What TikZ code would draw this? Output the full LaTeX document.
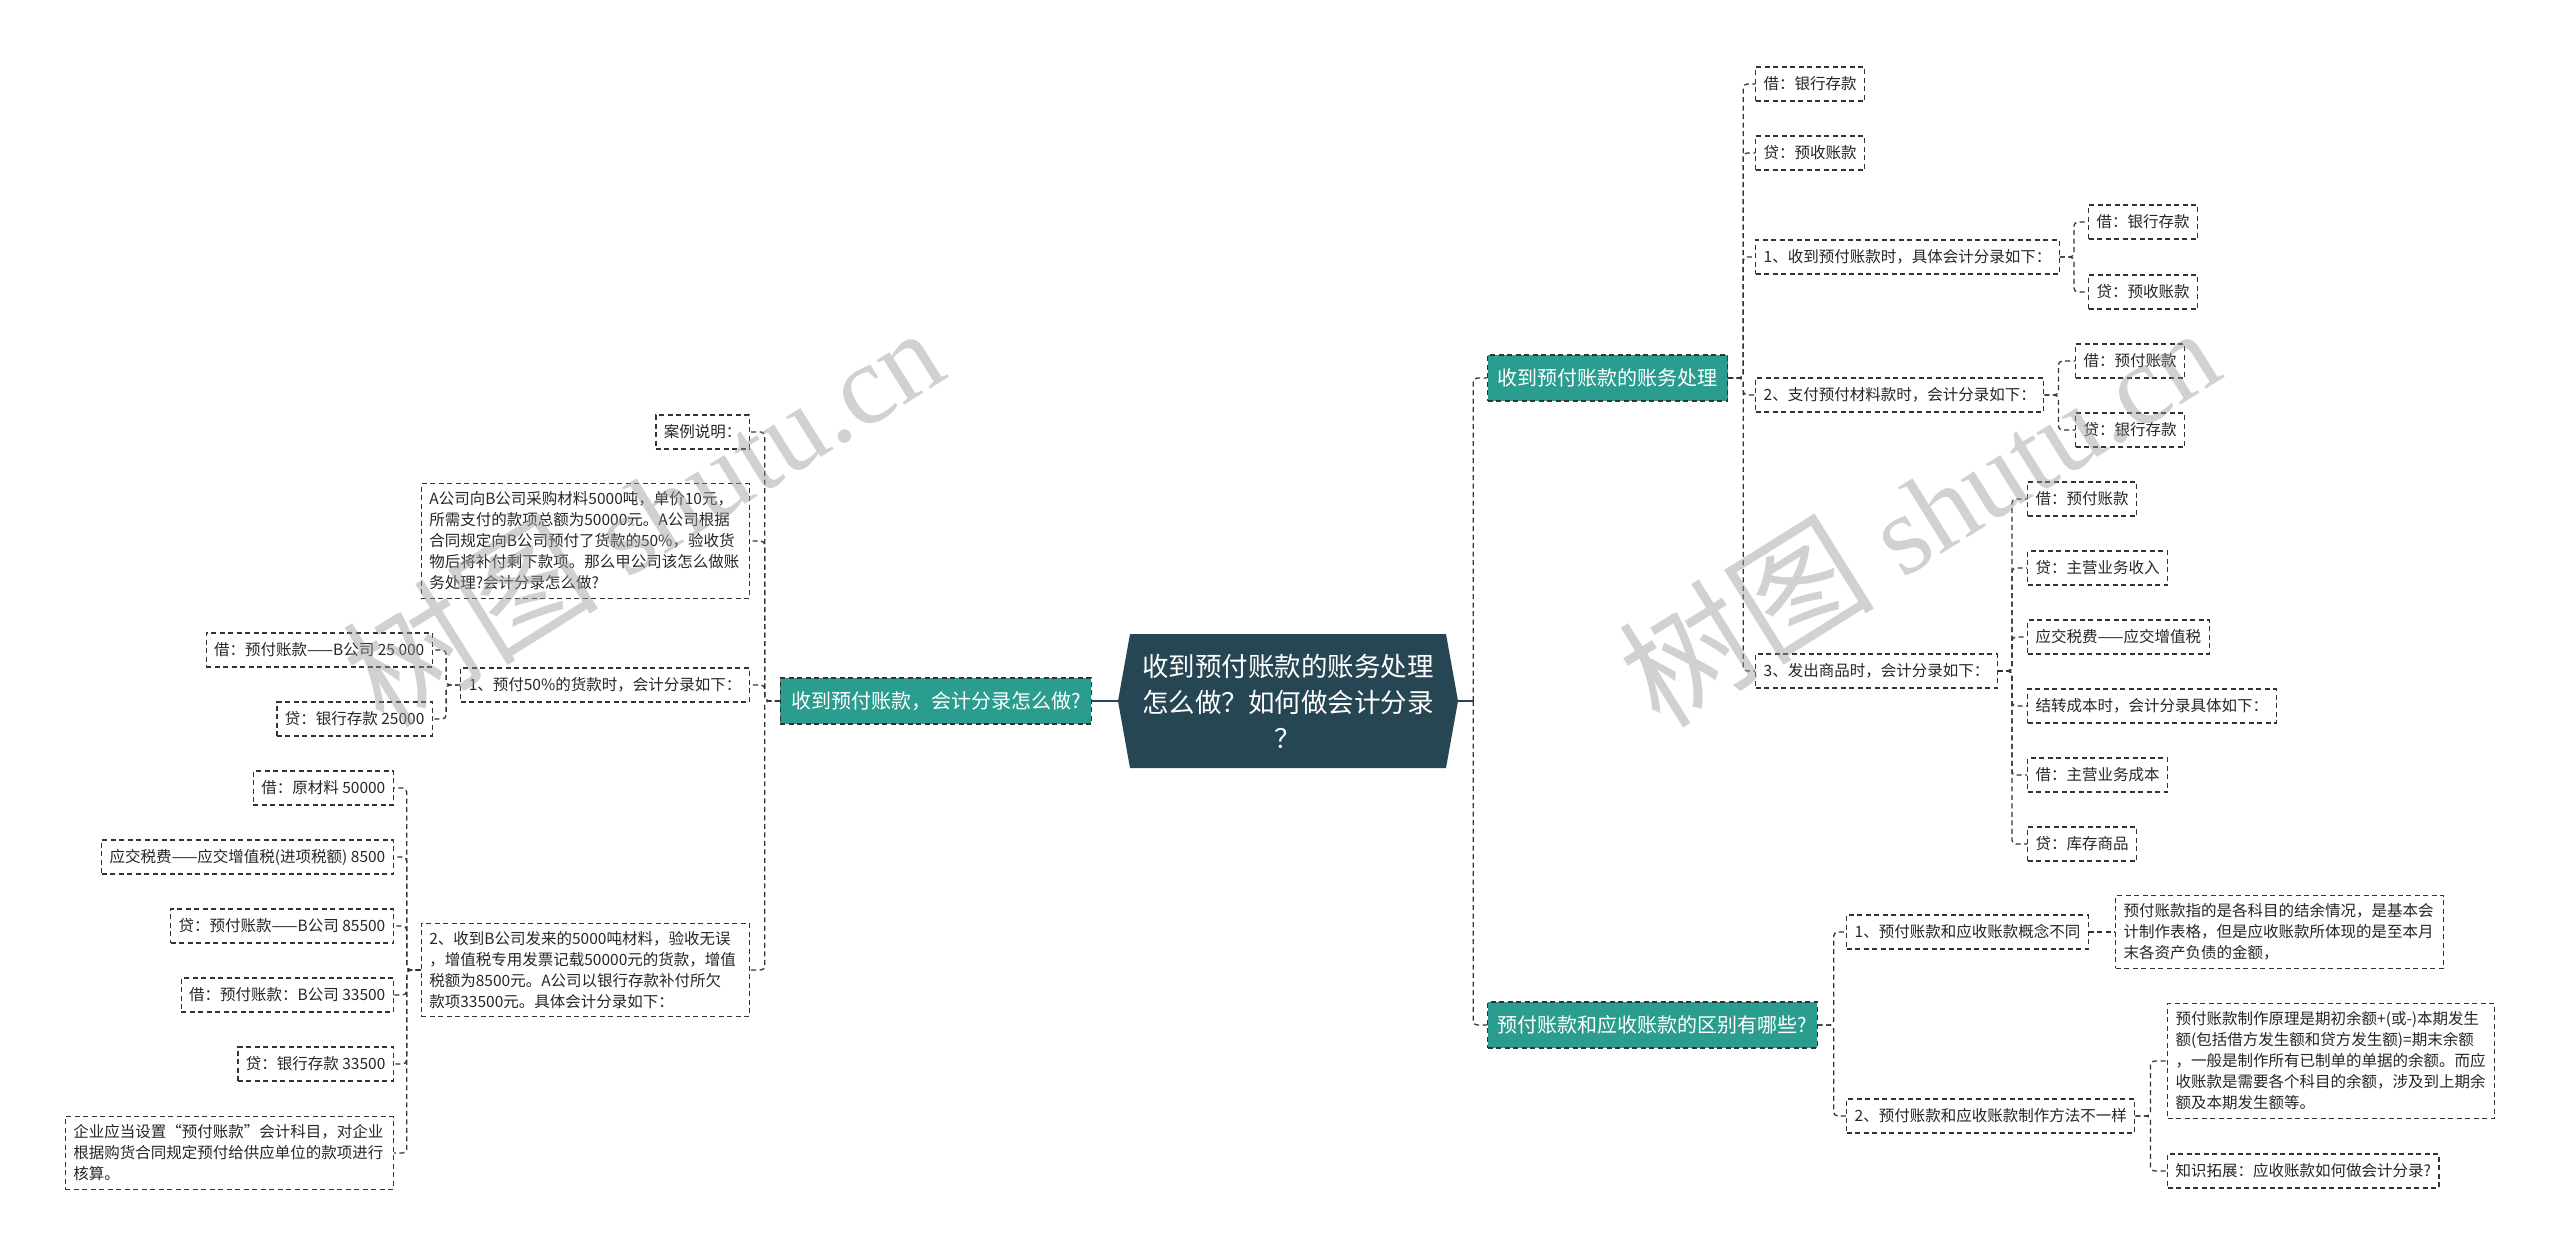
\documentclass[tikz,border=0pt]{standalone}
\usepackage{fontspec}
\setmainfont{Noto Sans CJK SC}
\newfontfamily\markfont{Liberation Serif}
\definecolor{rootc}{HTML}{264653}
\definecolor{branchc}{HTML}{2A9D8F}
\definecolor{linec}{HTML}{333333}
\definecolor{markc}{HTML}{9A9A9A}

\begin{document}
\begin{tikzpicture}[x=1pt,y=-1pt]
\tikzstyle{leaf}=[draw=linec,line width=1.3pt,dash pattern=on 5pt off 3.5pt,fill=white,text=black!85,font=\fontsize{15.5}{21}\selectfont,inner xsep=8pt,inner ysep=8pt,minimum height=34pt]
\tikzstyle{para}=[leaf,align=left,text width=312pt]
\tikzstyle{branch}=[draw=linec,line width=1.2pt,dash pattern=on 5pt off 3.5pt,fill=branchc,text=white,font=\fontsize{20}{24}\selectfont,inner xsep=10pt,minimum height=46pt]
\tikzstyle{link}=[draw=linec,line width=1.3pt,dash pattern=on 5pt off 3.5pt,rounded corners=4pt]
\tikzstyle{rootlink}=[draw=rootc,line width=2.5pt]
\tikzstyle{watermark}=[rotate=32,text=markc,opacity=0.45,inner sep=0pt]
\useasboundingbox[fill=white] (0,0) rectangle (2560,1258);
%%%%%%%%%%%%%%%%%%%%%%%%%%%%%%%%%%%%%%%%%%%%%%%%%%%%%%%%%%%%%%%%%%%%%%%%%%%%%%%%%%%%%%%%
%% Root
%%%%%%%%%%%%%%%%%%%%%%%%%%%%%%%%%%%%%%%%%%%%%%%%%%%%%%%%%%%%%%%%%%%%%%%%%%%%%%%%%%%%%%%%
\fill[rootc] (1118,701) -- (1130,634) -- (1446,634) -- (1458,701) -- (1446,768) -- (1130,768) -- cycle;
\node (root) at (1288,701) [minimum width=340pt,minimum height=134pt,inner sep=0pt,text=white,align=center,font=\fontsize{26.5}{36}\selectfont] {收到预付账款的账务处理\\怎么做？如何做会计分录\\？};

%%%%%%%%%%%%%%%%%%%%%%%%%%%%%%%%%%%%%%%%%%%%%%%%%%%%%%%%%%%%%%%%%%%%%%%%%%%%%%%%%%%%%%%%
%% Left side
%%%%%%%%%%%%%%%%%%%%%%%%%%%%%%%%%%%%%%%%%%%%%%%%%%%%%%%%%%%%%%%%%%%%%%%%%%%%%%%%%%%%%%%%
\node (l) [branch,anchor=east,minimum width=311pt] at (1092,701) {收到预付账款，会计分录怎么做?};

\node (la) [leaf,anchor=east] at (750,432) {案例说明：};
\node (lb) [para,anchor=east] at (750,541) {A公司向B公司采购材料5000吨，单价10元，\\所需支付的款项总额为50000元。A公司根据\\合同规定向B公司预付了货款的50\%，验收货\\物后将补付剩下款项。那么甲公司该怎么做账\\务处理?会计分录怎么做?};
\node (lc) [leaf,anchor=east] at (750,685) {1、预付50\%的货款时，会计分录如下：};
\node (ld) [para,anchor=east] at (750,970) {2、收到B公司发来的5000吨材料，验收无误\\，增值税专用发票记载50000元的货款，增值\\税额为8500元。A公司以银行存款补付所欠\\款项33500元。具体会计分录如下：};

% 1、
\node (lc1) [leaf,anchor=east] at (433,650) {借：预付账款——B公司 25 000};
\node (lc2) [leaf,anchor=east] at (433,719) {贷：银行存款 25000};

% 2、
\node (ld1) [leaf,anchor=east] at (394,788) {借：原材料 50000};
\node (ld2) [leaf,anchor=east] at (394,857) {应交税费——应交增值税(进项税额) 8500};
\node (ld3) [leaf,anchor=east] at (394,926) {贷：预付账款——B公司 85500};
\node (ld4) [leaf,anchor=east] at (394,995) {借：预付账款：B公司 33500};
\node (ld5) [leaf,anchor=east] at (394,1064) {贷：银行存款 33500};
\node (ld6) [para,anchor=east] at (394,1153) {企业应当设置“预付账款”会计科目，对企业\\根据购货合同规定预付给供应单位的款项进行\\核算。};

%%%%%%%%%%%%%%%%%%%%%%%%%%%%%%%%%%%%%%%%%%%%%%%%%%%%%%%%%%%%%%%%%%%%%%%%%%%%%%%%%%%%%%%%
%% Right side
%%%%%%%%%%%%%%%%%%%%%%%%%%%%%%%%%%%%%%%%%%%%%%%%%%%%%%%%%%%%%%%%%%%%%%%%%%%%%%%%%%%%%%%%
\node (r1) [branch,anchor=west] at (1487,378) {收到预付账款的账务处理};
\node (r2) [branch,anchor=west] at (1487,1025) {预付账款和应收账款的区别有哪些?};

\node (r1a) [leaf,anchor=west] at (1755,84) {借：银行存款};
\node (r1b) [leaf,anchor=west] at (1755,153) {贷：预收账款};
\node (r1c) [leaf,anchor=west] at (1755,257) {1、收到预付账款时，具体会计分录如下：};
\node (r1d) [leaf,anchor=west] at (1755,395) {2、支付预付材料款时，会计分录如下：};
\node (r1e) [leaf,anchor=west] at (1755,671) {3、发出商品时，会计分录如下：};

\node (r1c1) [leaf,anchor=west] at (2088,222) {借：银行存款};
\node (r1c2) [leaf,anchor=west] at (2088,292) {贷：预收账款};

\node (r1d1) [leaf,anchor=west] at (2075,361) {借：预付账款};
\node (r1d2) [leaf,anchor=west] at (2075,430) {贷：银行存款};

\node (r1e1) [leaf,anchor=west] at (2027,499) {借：预付账款};
\node (r1e2) [leaf,anchor=west] at (2027,568) {贷：主营业务收入};
\node (r1e3) [leaf,anchor=west] at (2027,637) {应交税费——应交增值税};
\node (r1e4) [leaf,anchor=west] at (2027,706) {结转成本时，会计分录具体如下：};
\node (r1e5) [leaf,anchor=west] at (2027,775) {借：主营业务成本};
\node (r1e6) [leaf,anchor=west] at (2027,844) {贷：库存商品};

\node (r2a) [leaf,anchor=west] at (1846,932) {1、预付账款和应收账款概念不同};
\node (r2b) [leaf,anchor=west] at (1846,1116) {2、预付账款和应收账款制作方法不一样};
\node (r2a1) [para,anchor=west] at (2115,932) {预付账款指的是各科目的结余情况，是基本会\\计制作表格，但是应收账款所体现的是至本月\\末各资产负债的金额，};
\node (r2b1) [para,anchor=west,text width=311pt] at (2167,1061) {预付账款制作原理是期初余额+(或-)本期发生\\额(包括借方发生额和贷方发生额)=期末余额\\，一般是制作所有已制单的单据的余额。而应\\收账款是需要各个科目的余额，涉及到上期余\\额及本期发生额等。};
\node (r2b2) [leaf,anchor=west] at (2167,1171) {知识拓展：应收账款如何做会计分录?};

%%%%%%%%%%%%%%%%%%%%%%%%%%%%%%%%%%%%%%%%%%%%%%%%%%%%%%%%%%%%%%%%%%%%%%%%%%%%%%%%%%%%%%%%
%% Draw connections
%%%%%%%%%%%%%%%%%%%%%%%%%%%%%%%%%%%%%%%%%%%%%%%%%%%%%%%%%%%%%%%%%%%%%%%%%%%%%%%%%%%%%%%%
\draw[rootlink] (root.west) -- (l.east);
\draw[rootlink] (root.east) -- ++(15,0);
\foreach \c in {r1,r2} \draw[link] ([xshift=15pt]root.east) |- (\c.west);

\foreach \c in {la,lb,lc,ld} \draw[link] (l.west) -- ++(-15,0) |- (\c.east);
\foreach \c in {lc1,lc2} \draw[link] (lc.west) -- ++(-14,0) |- (\c.east);
\foreach \c in {ld1,ld2,ld3,ld4,ld5,ld6} \draw[link] (ld.west) -- ++(-14,0) |- (\c.east);

\foreach \c in {r1a,r1b,r1c,r1d,r1e} \draw[link] (r1.east) -- ++(15,0) |- (\c.west);
\foreach \c in {r1c1,r1c2} \draw[link] (r1c.east) -- ++(14,0) |- (\c.west);
\foreach \c in {r1d1,r1d2} \draw[link] (r1d.east) -- ++(14,0) |- (\c.west);
\foreach \c in {r1e1,r1e2,r1e3,r1e4,r1e5,r1e6} \draw[link] (r1e.east) -- ++(14,0) |- (\c.west);

\foreach \c in {r2a,r2b} \draw[link] (r2.east) -- ++(16,0) |- (\c.west);
\draw[link] (r2a.east) -- (r2a1.west);
\foreach \c in {r2b1,r2b2} \draw[link] (r2b.east) -- ++(15,0) |- (\c.west);

% watermark
\node (wm1) [watermark] at (642,512) {\fontsize{128}{128}\selectfont 树图 {\markfont\fontsize{114}{114}\selectfont shutu.cn}};
\node (wm2) [watermark] at (1918,512) {\fontsize{128}{128}\selectfont 树图 {\markfont\fontsize{114}{114}\selectfont shutu.cn}};
\end{tikzpicture}
\end{document}
